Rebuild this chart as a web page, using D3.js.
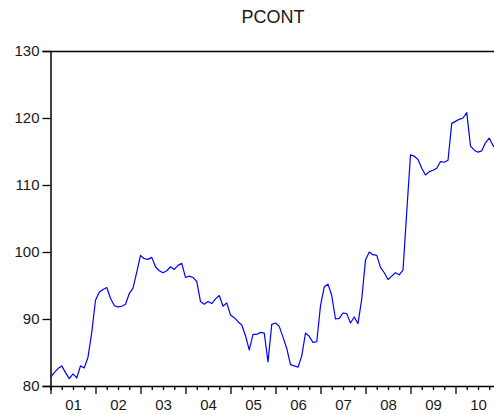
<!DOCTYPE html>
<html>
<head>
<meta charset="utf-8">
<script src="https://cdn.jsdelivr.net/npm/d3@7"></script>
<style>
html,body{margin:0;padding:0;background:#fff;}
svg{display:block;}
text{font-family:"Liberation Sans",Arial,sans-serif;fill:#1a1a1a;}
</style>
</head>
<body>
<svg id="chart" width="494" height="414"></svg>
<script>
// ---- data (monthly, 2001M01 .. 2010M12) ----
const title = "PCONT";
const yearLabels = ["01","02","03","04","05","06","07","08","09","10"];
const yTicks = [80, 90, 100, 110, 120, 130];
const pcont = [
  81.3, 82.0, 82.6, 83.0, 82.0, 81.1, 81.8, 81.2, 83.0, 82.7, 84.3, 88.0,
  92.8, 94.0, 94.4, 94.7, 93.1, 92.0, 91.8, 91.9, 92.2, 93.8, 94.6, 97.0,
  99.5, 99.0, 98.9, 99.2, 97.8, 97.2, 96.9, 97.2, 97.8, 97.4, 98.0, 98.3,
  96.2, 96.4, 96.2, 95.6, 92.6, 92.2, 92.6, 92.3, 93.0, 93.5, 91.9, 92.4,
  90.6, 90.2, 89.6, 89.1, 87.5, 85.4, 87.7, 87.7, 88.0, 87.9, 83.6, 89.2,
  89.4, 88.9, 87.3, 85.6, 83.2, 83.0, 82.8, 84.5, 87.9, 87.4, 86.5, 86.6,
  92.0, 94.8, 95.2, 93.5, 90.0, 90.1, 90.9, 90.8, 89.4, 90.3, 89.3, 93.0,
  98.8, 100.0, 99.6, 99.5, 97.7, 96.9, 95.9, 96.4, 96.9, 96.6, 97.3, 106.0,
  114.5, 114.3, 113.8, 112.5, 111.5, 112.0, 112.2, 112.5, 113.5, 113.4, 113.7, 119.2,
  119.5, 119.8, 120.0, 120.8, 115.8, 115.2, 114.9, 115.1, 116.3, 117.0, 115.9, 115.3
];

// ---- layout ----
const svg = d3.select("#chart");
const plotLeft = 50.5, plotTop = 51, plotBottom = 386;
const monthW = 3.75;
const nMonths = yearLabels.length * 12;

const x = d3.scaleLinear().domain([0, nMonths]).range([plotLeft, plotLeft + nMonths * monthW]);
const y = d3.scaleLinear().domain([80, 130]).range([plotBottom, plotTop]);

// frame
const plotRight = x(nMonths);
svg.append("path")
  .attr("d", `M${plotLeft},${y(130)+0.5}H${plotRight}`)
  .attr("stroke", "#000").attr("stroke-width", 1.3).attr("fill", "none");
svg.append("path")
  .attr("d", `M${plotRight},${y(130)}V${plotBottom}`)
  .attr("stroke", "#000").attr("stroke-width", 1.3).attr("fill", "none");

// y axis
const yAxis = d3.axisLeft(y).tickValues(yTicks).tickSize(8).tickPadding(3).tickFormat(d3.format("d"));
const gy = svg.append("g").attr("transform", `translate(${plotLeft},0)`).call(yAxis);
gy.select(".domain").attr("stroke", "#000").attr("stroke-width", 1.5);
gy.selectAll(".tick line").attr("stroke", "#000").attr("stroke-width", 1.3);
gy.selectAll(".tick text").attr("font-size", 15).attr("fill", "#1a1a1a")
  .style("font-family", "'Liberation Sans', Arial, sans-serif");

// x axis: minor (quarterly) ticks
const quarterTicks = d3.range(0, nMonths + 1, 3).filter(m => m % 12 !== 0);
const yearTicks = d3.range(0, nMonths + 1, 12);
const gxMinor = svg.append("g").attr("transform", `translate(0,${plotBottom})`)
  .call(d3.axisBottom(x).tickValues(quarterTicks).tickSize(4).tickFormat(""));
gxMinor.select(".domain").attr("stroke", "#000").attr("stroke-width", 1.5);
gxMinor.selectAll(".tick line").attr("stroke", "#000").attr("stroke-width", 1.3);

const gxMajor = svg.append("g").attr("transform", `translate(0,${plotBottom})`)
  .call(d3.axisBottom(x).tickValues(yearTicks).tickSize(8).tickFormat(""));
gxMajor.select(".domain").remove();
gxMajor.selectAll(".tick line").attr("stroke", "#000").attr("stroke-width", 1.3);

// year labels centred in each year
const labelAxis = d3.axisBottom(x)
  .tickValues(yearLabels.map((d, i) => i * 12 + 6))
  .tickSize(0).tickPadding(13)
  .tickFormat((d, i) => yearLabels[i]);
const gxl = svg.append("g").attr("transform", `translate(0,${plotBottom})`).call(labelAxis);
gxl.select(".domain").remove();
gxl.selectAll(".tick text").attr("font-size", 15).attr("fill", "#1a1a1a")
  .style("font-family", "'Liberation Sans', Arial, sans-serif");

// line
const line = d3.line().x((d, i) => x(i)).y(d => y(d));
svg.append("path")
  .datum(pcont)
  .attr("d", line)
  .attr("fill", "none")
  .attr("stroke", "#0000ff")
  .attr("stroke-width", 1.2)
  .attr("stroke-linejoin", "round");

// title
svg.append("text")
  .attr("x", 273).attr("y", 23)
  .attr("text-anchor", "middle")
  .attr("font-size", 18)
  .text(title);
</script>
</body>
</html>
